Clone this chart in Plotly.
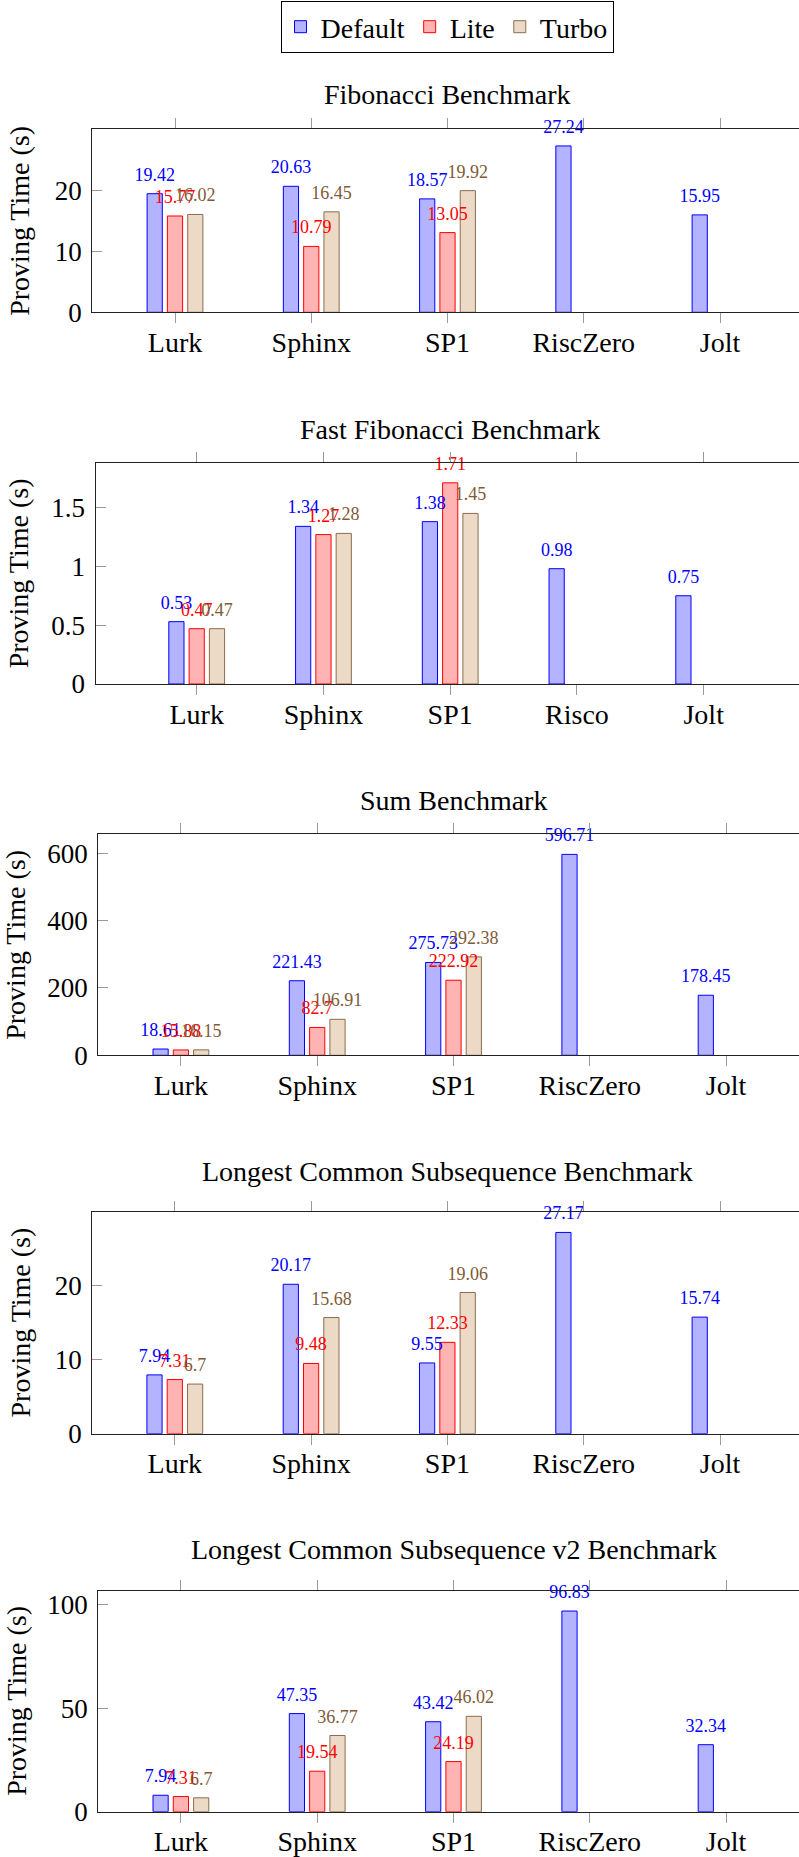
import plotly.graph_objects as go

# ---------------- data ----------------
categories = ["Lurk", "Sphinx", "SP1", "RiscZero", "Jolt"]
categories_fast = ["Lurk", "Sphinx", "SP1", "Risco", "Jolt"]
series_names = ["Default", "Lite", "Turbo"]

titles = [
    "Fibonacci Benchmark",
    "Fast Fibonacci Benchmark",
    "Sum Benchmark",
    "Longest Common Subsequence Benchmark",
    "Longest Common Subsequence v2 Benchmark",
]

fib_default = [19.42, 20.63, 18.57, 27.24, 15.95]
fib_lite = [15.77, 10.79, 13.05, None, None]
fib_turbo = [16.02, 16.45, 19.92, None, None]

fast_default = [0.53, 1.34, 1.38, 0.98, 0.75]
fast_lite = [0.47, 1.27, 1.71, None, None]
fast_turbo = [0.47, 1.28, 1.45, None, None]

sum_default = [18.61, 221.43, 275.73, 596.71, 178.45]
sum_lite = [15.88, 82.7, 222.92, None, None]
sum_turbo = [16.15, 106.91, 292.38, None, None]

lcs_default = [7.94, 20.17, 9.55, 27.17, 15.74]
lcs_lite = [7.31, 9.48, 12.33, None, None]
lcs_turbo = [6.7, 15.68, 19.06, None, None]

lcs2_default = [7.94, 47.35, 43.42, 96.83, 32.34]
lcs2_lite = [7.31, 19.54, 24.19, None, None]
lcs2_turbo = [6.7, 36.77, 46.02, None, None]

y_ticks_step = [10, 0.5, 200, 10, 50]

# ---------------- layout geometry (pixels) ----------------
W, H = 799, 1857
FONT = "Liberation Serif"

charts = [
    dict(cats=categories, vals=[fib_default, fib_lite, fib_turbo],
         top=129.3, bottom=312.3, left=92.2, p0=175.0, s=136.25, title_y=95.0, ylab_x=20.0),
    dict(cats=categories_fast, vals=[fast_default, fast_lite, fast_turbo],
         top=462.7, bottom=684.0, left=95.5, p0=196.7, s=126.75, title_y=429.3, ylab_x=18.0),
    dict(cats=categories, vals=[sum_default, sum_lite, sum_turbo],
         top=834.3, bottom=1055.3, left=98.3, p0=180.9, s=136.3, title_y=800.0, ylab_x=16.0),
    dict(cats=categories, vals=[lcs_default, lcs_lite, lcs_turbo],
         top=1212.3, bottom=1433.7, left=92.2, p0=174.8, s=136.3, title_y=1171.7, ylab_x=19.5),
    dict(cats=categories, vals=[lcs2_default, lcs2_lite, lcs2_turbo],
         top=1591.0, bottom=1811.7, left=98.3, p0=180.9, s=136.3, title_y=1549.3, ylab_x=16.5),
]

fills = ["#b3b3ff", "#ffb3b3", "#ecd9c6"]
lines = ["#0000ff", "#ff0000", "#8c6d4f"]
textcols = ["#0000ff", "#ff0000", "#805a36"]

BAR_W_PX = 15.2
SLOT_PX = 20.3

fig = go.Figure()
annotations = []
label_traces = []

for i, ch in enumerate(charts):
    n = i + 1
    xa = "x" if n == 1 else f"x{n}"
    ya = "y" if n == 1 else f"y{n}"
    s = ch["s"]
    bw = BAR_W_PX / s
    idx = list(range(len(ch["cats"])))
    for k, (name, vals) in enumerate(zip(series_names, ch["vals"])):
        center = (k - 1) * SLOT_PX / s
        fig.add_trace(go.Bar(
            x=idx, y=vals, name=name,
            xaxis=xa, yaxis=ya,
            width=bw, offset=center - bw / 2,
            marker=dict(color=fills[k], line=dict(color=lines[k], width=1)),
            showlegend=(i == 0),
            legendgroup=name,
            hoverinfo="skip",
        ))
        # value labels drawn in a layer above all bars
        label_traces.append(go.Scatter(
            x=[j + center for j, v in zip(idx, vals) if v is not None],
            y=[v for v in vals if v is not None],
            text=[str(v) for v in vals if v is not None],
            mode="markers+text", textposition="top center",
            marker=dict(size=12, color="rgba(0,0,0,0)"),
            textfont=dict(family=FONT, size=18, color=textcols[k]),
            xaxis=xa, yaxis=ya, cliponaxis=False,
            showlegend=False, hoverinfo="skip",
        ))
    vmax = max(v for series in ch["vals"] for v in series if v is not None)
    right_px = ch["p0"] + 4 * s + (ch["p0"] - ch["left"])
    xr = [(ch["left"] - ch["p0"]) / s, (W - ch["p0"]) / s]
    xkey = "xaxis" if n == 1 else f"xaxis{n}"
    ykey = "yaxis" if n == 1 else f"yaxis{n}"
    fig.layout[xkey] = dict(
        domain=[ch["left"] / W, 1.0], anchor=ya, range=xr,
        tickvals=idx, ticktext=ch["cats"],
        showline=True, linecolor="#222", linewidth=1.2, mirror="ticks",
        ticks="outside", ticklen=10, tickcolor="#9a9a9a", tickwidth=1,
        ticklabelstandoff=-5,
        tickfont=dict(family=FONT, size=28, color="black"),
        showgrid=False, zeroline=False, fixedrange=True, automargin=False,
    )
    fig.layout[ykey] = dict(
        domain=[1 - ch["bottom"] / H, 1 - ch["top"] / H], anchor=xa,
        range=[0, vmax * 1.1], dtick=y_ticks_step[i], tick0=0,
        showline=True, linecolor="#222", linewidth=1.2, mirror=False,
        ticks="inside", ticklen=10, tickcolor="#9a9a9a", tickwidth=1,
        ticklabelstandoff=4,
        tickfont=dict(family=FONT, size=27, color="black"),
        showgrid=False, zeroline=False, fixedrange=True, automargin=False,
    )
    annotations.append(dict(
        text=titles[i], xref="paper", yref="paper",
        x=(ch["left"] + right_px) / 2 / W, y=1 - ch["title_y"] / H,
        xanchor="center", yanchor="middle", showarrow=False,
        font=dict(family=FONT, size=28, color="black"),
    ))
    annotations.append(dict(
        text="Proving Time (s)", xref="paper", yref="paper",
        x=ch["ylab_x"] / W, y=1 - (ch["top"] + ch["bottom"]) / 2 / H,
        xanchor="center", yanchor="middle", showarrow=False, textangle=-90,
        font=dict(family=FONT, size=28, color="black"),
    ))

for t in label_traces:
    fig.add_trace(t)

fig.update_layout(
    width=W, height=H,
    margin=dict(l=0, r=0, t=0, b=0, autoexpand=False),
    paper_bgcolor="white", plot_bgcolor="white",
    barmode="overlay",
    annotations=annotations,
    showlegend=True,
    legend=dict(
        orientation="h", x=447 / W, xanchor="center", y=1 - 1.0 / H, yanchor="top",
        bordercolor="black", borderwidth=1, bgcolor="white",
        font=dict(family=FONT, size=28, color="black"),
        itemwidth=30, tracegroupgap=0,
    ),
    font=dict(family=FONT),
)

fig.write_html(
    "out.html",
    config={"displayModeBar": False},
    post_script="document.documentElement.style.margin='0';"
                "document.body.style.margin='0';"
                "document.body.style.overflow='hidden';",
)
